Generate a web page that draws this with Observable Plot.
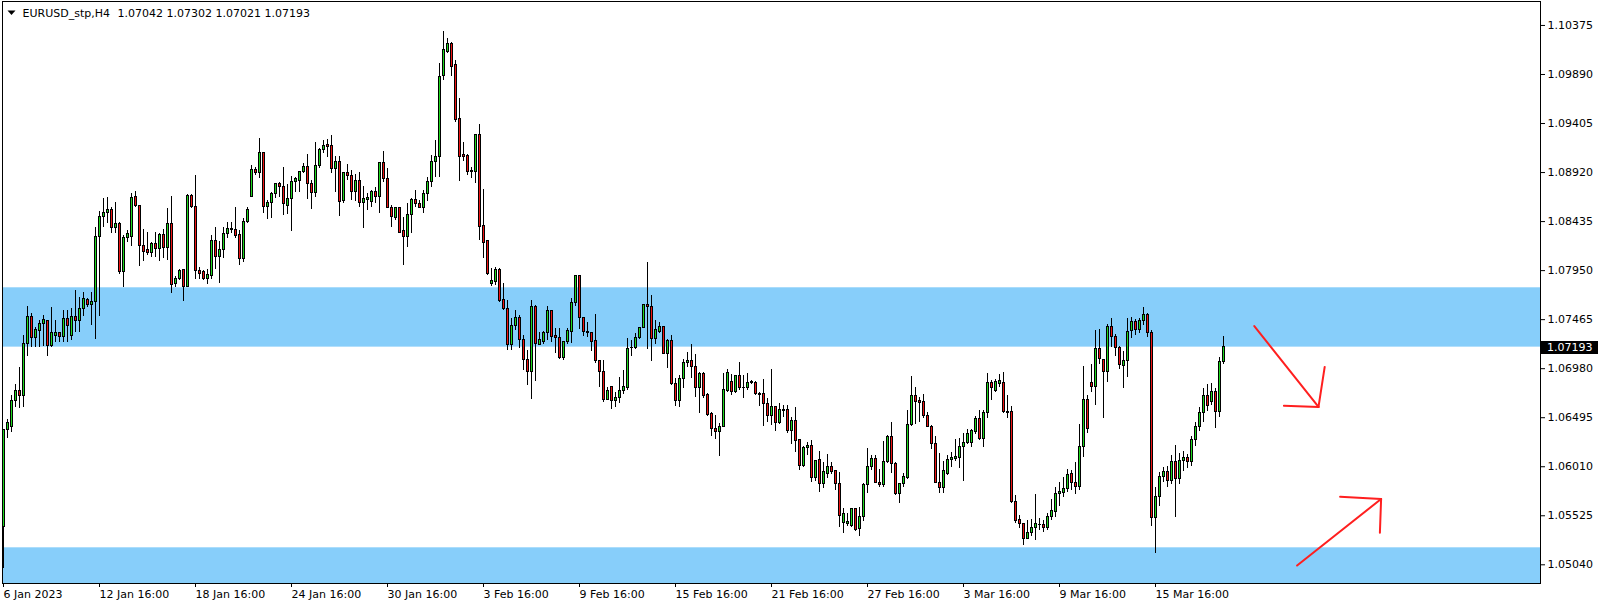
<!DOCTYPE html>
<html><head><meta charset="utf-8">
<script src="https://cdn.jsdelivr.net/npm/d3@7"></script>
<script src="https://cdn.jsdelivr.net/npm/@observablehq/plot@0.6"></script>
<style>
html,body{margin:0;padding:0;background:#fff;}
#chart svg{display:block;}
</style></head><body><div id="chart"></div>
<script>
const symbolLabel = "EURUSD_stp,H4";
const headerValues = "1.07042 1.07302 1.07021 1.07193";

const open = [
1.05409,1.06369,1.06399,1.06656,1.06755,1.06705,1.07229,1.07496,1.07279,1.07348,
1.07417,1.07447,1.07200,1.07308,1.07328,1.07289,1.07467,1.07308,1.07487,1.07447,
1.07566,1.07655,1.07605,1.07635,1.08278,1.08476,1.08515,1.08545,1.08367,1.08416,
1.07932,1.08268,1.08278,1.08674,1.08585,1.08189,1.08149,1.08129,1.08209,1.08159,
1.08298,1.08169,1.08416,1.07813,1.07863,1.07952,1.07783,1.08693,1.08575,1.07942,
1.07932,1.07863,1.07892,1.08238,1.08080,1.08149,1.08308,1.08347,1.08347,1.08298,
1.08060,1.08426,1.08674,1.08941,1.08911,1.09109,1.08575,1.08614,1.08703,1.08802,
1.08773,1.08594,1.08654,1.08822,1.08832,1.08921,1.08971,1.08802,1.08713,1.08980,
1.09139,1.09188,1.09178,1.08951,1.09020,1.08634,1.08911,1.08881,1.08723,1.08832,
1.08614,1.08644,1.08624,1.08723,1.08674,1.09010,1.08852,1.08565,1.08466,1.08565,
1.08337,1.08278,1.08505,1.08644,1.08604,1.08565,1.08703,1.08822,1.09020,1.09069,
1.09871,1.10108,1.10187,1.09979,1.09445,1.09089,1.09079,1.08931,1.08921,1.09287,
1.08387,1.08238,1.07813,1.07833,1.07961,1.07655,1.07566,1.07210,1.07407,1.07477,
1.07259,1.07061,1.06943,1.07586,1.07219,1.07239,1.07328,1.07546,1.07308,1.07279,
1.07081,1.07239,1.07338,1.07625,1.07892,1.07477,1.07338,1.07328,1.07249,1.07051,
1.06952,1.06675,1.06794,1.06656,1.06685,1.06764,1.06784,1.07180,1.07180,1.07279,
1.07378,1.07605,1.07595,1.07269,1.07338,1.07388,1.07130,1.07249,1.06824,1.06656,
1.06873,1.07041,1.07051,1.06992,1.06784,1.06923,1.06715,1.06527,1.06379,1.06349,
1.06399,1.06764,1.06853,1.06745,1.06903,1.06784,1.06784,1.06843,1.06843,1.06725,
1.06725,1.06626,1.06507,1.06596,1.06438,1.06567,1.06567,1.06359,1.06458,1.06270,
1.06013,1.06191,1.06220,1.05894,1.06072,1.05844,1.05943,1.06003,1.05963,1.05844,
1.05449,1.05439,1.05419,1.05587,1.05390,1.05508,1.05825,1.06003,1.06082,1.05854,
1.05825,1.06052,1.06309,1.06042,1.05745,1.05835,1.05894,1.06418,1.06705,1.06656,
1.06646,1.06507,1.06408,1.06230,1.05854,1.05795,1.05943,1.06072,1.06082,1.06092,
1.06210,1.06240,1.06240,1.06349,1.06478,1.06280,1.06537,1.06843,1.06755,1.06833,
1.06843,1.06547,1.06547,1.05666,1.05479,1.05439,1.05300,1.05350,1.05400,1.05429,
1.05429,1.05400,1.05508,1.05567,1.05736,1.05755,1.05785,1.05943,1.05854,1.05805,
1.06210,1.06675,1.06843,1.06794,1.07170,1.07061,1.06943,1.07388,1.07289,1.07180,
1.07011,1.07051,1.07348,1.07437,1.07358,1.07447,1.07506,1.07328,1.05498,1.05706,
1.05904,1.05953,1.05864,1.06052,1.05884,1.06062,1.06101,1.06052,1.06270,1.06408,
1.06537,1.06705,1.06646,1.06745,1.06547,1.07042];

const high = [
1.06379,1.06478,1.06715,1.06824,1.06992,1.07308,1.07595,1.07526,1.07388,1.07457,
1.07506,1.07457,1.07586,1.07457,1.07338,1.07556,1.07556,1.07576,1.07754,1.07684,
1.07734,1.07674,1.07734,1.08377,1.08535,1.08664,1.08674,1.08575,1.08624,1.08426,
1.08298,1.08347,1.08713,1.08733,1.08594,1.08357,1.08327,1.08228,1.08327,1.08317,
1.08357,1.08565,1.08684,1.07892,1.07961,1.07961,1.08703,1.08703,1.08891,1.07981,
1.07952,1.07961,1.08298,1.08377,1.08238,1.08377,1.08426,1.08426,1.08575,1.08347,
1.08466,1.08575,1.08990,1.08971,1.09257,1.09119,1.08644,1.08723,1.08812,1.08822,
1.08971,1.08802,1.08881,1.08872,1.08931,1.09010,1.09099,1.08842,1.09218,1.09158,
1.09237,1.09247,1.09287,1.09079,1.09079,1.08921,1.09000,1.08941,1.08901,1.08921,
1.08782,1.08713,1.08743,1.08773,1.09020,1.09129,1.08961,1.08594,1.08575,1.08575,
1.08476,1.08614,1.08664,1.08743,1.08644,1.08743,1.08871,1.09089,1.09237,1.09999,
1.10316,1.10247,1.10207,1.10029,1.09653,1.09218,1.09099,1.08971,1.09297,1.09396,
1.08753,1.08248,1.07971,1.07981,1.07971,1.07823,1.07655,1.07477,1.07556,1.07506,
1.07308,1.07160,1.07655,1.07605,1.07338,1.07348,1.07595,1.07556,1.07378,1.07378,
1.07249,1.07378,1.07675,1.07902,1.07902,1.07487,1.07437,1.07338,1.07516,1.07061,
1.07061,1.06794,1.06804,1.06745,1.06893,1.06962,1.07279,1.07259,1.07328,1.07388,
1.07615,1.08031,1.07704,1.07457,1.07437,1.07398,1.07269,1.07308,1.06883,1.06913,
1.07071,1.07140,1.07219,1.07120,1.06943,1.06943,1.06735,1.06547,1.06517,1.06438,
1.06933,1.06972,1.06923,1.06913,1.07041,1.06913,1.06933,1.06863,1.06853,1.06745,
1.06873,1.06685,1.06972,1.06606,1.06636,1.06616,1.06616,1.06497,1.06596,1.06280,
1.06210,1.06250,1.06270,1.06072,1.06161,1.06052,1.06131,1.06052,1.05973,1.05953,
1.05597,1.05548,1.05597,1.05597,1.05607,1.05844,1.06191,1.06121,1.06121,1.05983,
1.06260,1.06319,1.06448,1.06052,1.05844,1.05943,1.06567,1.06903,1.06794,1.06695,
1.06725,1.06547,1.06418,1.06309,1.06141,1.06062,1.06121,1.06151,1.06280,1.06290,
1.06339,1.06379,1.06379,1.06507,1.06567,1.06567,1.06933,1.06863,1.06873,1.06923,
1.06943,1.06715,1.06606,1.05726,1.05528,1.05449,1.05479,1.05489,1.05736,1.05498,
1.05479,1.05548,1.05686,1.05805,1.05854,1.05904,1.05983,1.05973,1.06052,1.06428,
1.07002,1.06715,1.07021,1.07358,1.07368,1.07071,1.07417,1.07477,1.07318,1.07200,
1.07150,1.07477,1.07487,1.07467,1.07477,1.07586,1.07526,1.07358,1.05805,1.05953,
1.06003,1.06013,1.06121,1.06220,1.06141,1.06161,1.06131,1.06309,1.06448,1.06596,
1.06784,1.06824,1.06834,1.06784,1.07091,1.07302];

const low = [
1.05004,1.06290,1.06349,1.06596,1.06586,1.06596,1.07101,1.07190,1.07190,1.07190,
1.07200,1.07101,1.07190,1.07239,1.07239,1.07239,1.07239,1.07259,1.07338,1.07338,
1.07496,1.07586,1.07407,1.07269,1.07496,1.08377,1.08416,1.08317,1.08317,1.07912,
1.07783,1.08228,1.08189,1.08575,1.07991,1.08041,1.08100,1.08080,1.08080,1.08041,
1.08070,1.08050,1.07724,1.07783,1.07853,1.07645,1.07783,1.08565,1.07863,1.07863,
1.07853,1.07813,1.07863,1.07961,1.07823,1.08070,1.08268,1.08317,1.08268,1.08001,
1.08031,1.08416,1.08674,1.08891,1.08862,1.08515,1.08456,1.08466,1.08664,1.08674,
1.08496,1.08505,1.08337,1.08723,1.08723,1.08911,1.08654,1.08555,1.08674,1.08961,
1.09109,1.09069,1.08911,1.08723,1.08486,1.08614,1.08842,1.08644,1.08634,1.08575,
1.08367,1.08545,1.08575,1.08614,1.08515,1.08822,1.08560,1.08377,1.08446,1.08317,
1.08001,1.08179,1.08317,1.08575,1.08560,1.08515,1.08634,1.08773,1.08871,1.08871,
1.09831,1.10098,1.09871,1.09415,1.08832,1.09030,1.08891,1.08862,1.08812,1.08248,
1.08070,1.07902,1.07793,1.07803,1.07635,1.07556,1.07160,1.07160,1.07358,1.07180,
1.06962,1.06814,1.06675,1.06853,1.07210,1.07219,1.07259,1.07239,1.07130,1.07071,
1.07061,1.07219,1.07229,1.07595,1.07368,1.07298,1.07289,1.07150,1.07031,1.06794,
1.06646,1.06665,1.06577,1.06596,1.06636,1.06725,1.06764,1.07101,1.07170,1.07269,
1.07378,1.07170,1.07051,1.07219,1.07328,1.07120,1.06982,1.06814,1.06606,1.06596,
1.06784,1.06992,1.06883,1.06695,1.06537,1.06685,1.06507,1.06309,1.06279,1.06112,
1.06399,1.06745,1.06715,1.06735,1.06764,1.06685,1.06764,1.06824,1.06715,1.06606,
1.06408,1.06448,1.06418,1.06359,1.06428,1.06497,1.06339,1.06230,1.06151,1.05973,
1.06003,1.06121,1.05854,1.05864,1.05755,1.05795,1.05894,1.05933,1.05775,1.05409,
1.05350,1.05419,1.05409,1.05370,1.05320,1.05469,1.05745,1.05973,1.05844,1.05805,
1.05805,1.06042,1.05943,1.05726,1.05647,1.05805,1.05884,1.06408,1.06428,1.06448,
1.06487,1.06398,1.06181,1.05844,1.05745,1.05745,1.05923,1.06003,1.06062,1.05993,
1.05864,1.06230,1.06201,1.06329,1.06270,1.06201,1.06487,1.06665,1.06745,1.06794,
1.06537,1.06487,1.05647,1.05449,1.05400,1.05231,1.05290,1.05320,1.05281,1.05380,
1.05360,1.05380,1.05479,1.05508,1.05617,1.05706,1.05755,1.05775,1.05736,1.05775,
1.06102,1.06339,1.06745,1.06616,1.07021,1.06487,1.06843,1.07190,1.07101,1.06972,
1.06784,1.06893,1.07279,1.07308,1.07328,1.07407,1.07289,1.05420,1.05156,1.05617,
1.05854,1.05805,1.05835,1.05508,1.05835,1.05963,1.05993,1.06013,1.06210,1.06359,
1.06448,1.06557,1.06616,1.06389,1.06498,1.07021];

const close = [
1.06369,1.06438,1.06656,1.06755,1.06705,1.07229,1.07496,1.07279,1.07358,1.07417,
1.07457,1.07200,1.07328,1.07328,1.07289,1.07467,1.07398,1.07487,1.07447,1.07566,
1.07665,1.07605,1.07635,1.08278,1.08476,1.08515,1.08545,1.08367,1.08416,1.07932,
1.08268,1.08308,1.08664,1.08585,1.08189,1.08139,1.08120,1.08209,1.08159,1.08298,
1.08169,1.08416,1.07803,1.07863,1.07942,1.07783,1.08693,1.08575,1.07942,1.07912,
1.07863,1.07902,1.08238,1.08080,1.08149,1.08308,1.08357,1.08357,1.08288,1.08060,
1.08426,1.08545,1.08941,1.08911,1.09109,1.08575,1.08614,1.08703,1.08802,1.08773,
1.08604,1.08654,1.08822,1.08852,1.08921,1.08971,1.08802,1.08713,1.08980,1.09139,
1.09178,1.09168,1.08951,1.09020,1.08624,1.08911,1.08881,1.08723,1.08832,1.08614,
1.08654,1.08664,1.08723,1.08674,1.09010,1.08852,1.08565,1.08476,1.08565,1.08327,
1.08278,1.08505,1.08644,1.08604,1.08565,1.08703,1.08822,1.09020,1.09069,1.09861,
1.10128,1.10187,1.09969,1.09435,1.09069,1.09069,1.08921,1.08926,1.09287,1.08377,
1.08228,1.07912,1.07843,1.07961,1.07645,1.07566,1.07210,1.07407,1.07477,1.07259,
1.07061,1.06943,1.07595,1.07229,1.07259,1.07328,1.07546,1.07298,1.07279,1.07081,
1.07239,1.07348,1.07625,1.07892,1.07477,1.07338,1.07328,1.07239,1.07051,1.06943,
1.06675,1.06764,1.06665,1.06685,1.06764,1.06794,1.07170,1.07183,1.07279,1.07378,
1.07605,1.07586,1.07269,1.07358,1.07388,1.07130,1.07249,1.06824,1.06656,1.06873,
1.07041,1.07051,1.06992,1.06784,1.06923,1.06705,1.06517,1.06379,1.06349,1.06399,
1.06774,1.06933,1.06745,1.06903,1.06784,1.06789,1.06843,1.06848,1.06725,1.06720,
1.06626,1.06507,1.06596,1.06438,1.06567,1.06562,1.06359,1.06458,1.06260,1.06013,
1.06191,1.06220,1.05894,1.06062,1.05844,1.05953,1.06003,1.05953,1.05844,1.05518,
1.05538,1.05459,1.05587,1.05380,1.05508,1.05825,1.06003,1.06082,1.05854,1.05825,
1.06052,1.06309,1.06042,1.05736,1.05835,1.05904,1.06418,1.06705,1.06646,1.06636,
1.06507,1.06408,1.06230,1.05854,1.05795,1.05963,1.06072,1.06092,1.06102,1.06210,
1.06240,1.06329,1.06359,1.06478,1.06280,1.06537,1.06843,1.06784,1.06853,1.06858,
1.06547,1.06542,1.05657,1.05469,1.05439,1.05300,1.05350,1.05400,1.05439,1.05434,
1.05400,1.05508,1.05577,1.05736,1.05765,1.05785,1.05933,1.05854,1.05805,1.06210,
1.06675,1.06379,1.06794,1.07170,1.07071,1.06943,1.07388,1.07289,1.07180,1.07021,
1.07051,1.07338,1.07437,1.07358,1.07447,1.07506,1.07328,1.05498,1.05706,1.05904,
1.05953,1.05864,1.06052,1.05884,1.06062,1.06101,1.06052,1.06270,1.06408,1.06537,
1.06705,1.06606,1.06745,1.06547,1.07042,1.07193];

// x axis: bar index of each tick and its label
const xTickIndex = [0, 24, 48, 72, 96, 120, 144, 168, 192, 216, 240, 264, 288];
const xTickLabels = ["6 Jan 2023", "12 Jan 16:00", "18 Jan 16:00", "24 Jan 16:00", "30 Jan 16:00",
  "3 Feb 16:00", "9 Feb 16:00", "15 Feb 16:00", "21 Feb 16:00", "27 Feb 16:00",
  "3 Mar 16:00", "9 Mar 16:00", "15 Mar 16:00"];
// y axis
const yTicks = [1.10375, 1.09890, 1.09405, 1.08920, 1.08435, 1.07950, 1.07465,
  1.06980, 1.06495, 1.06010, 1.05525, 1.05040];
const yDomain = [1.04855, 1.10612];
const xDomain = [-0.25, 384.25];
const lastPrice = 1.07193;

// shaded zones (price ranges)
const zoneLow = [1.07193, 1.04855];
const zoneHigh = [1.07780, 1.05208];

// hand-drawn arrows (bar index, price)
const arrowX1 = [312.7, 328.75, 328.75, 323.4, 344.4, 344.4];
const arrowY1 = [1.07402, 1.06602, 1.06602, 1.05033, 1.05691, 1.05691];
const arrowX2 = [328.75, 320.1, 330.3, 344.4, 334.15, 344.1];
const arrowY2 = [1.06602, 1.06613, 1.06997, 1.05691, 1.05712, 1.05357];

const GREEN = "#1ed81e", RED = "#ee1414", ZONE = "#87cefa", ARROW = "#ff1f1f";
const FONT = "DejaVu Sans";

const n = Math.min(open.length, high.length, low.length, close.length);
const bars = d3.range(n).map(i => ({i, o: open[i], h: high[i], l: low[i], c: close[i],
  lo: Math.min(open[i], close[i]), hi: Math.max(open[i], close[i]), up: close[i] >= open[i]}));
const zones = zoneLow.map((lo, k) => ({lo, hi: zoneHigh[k]}));
const arrows = arrowX1.map((x1, k) => ({x1, y1: arrowY1[k], x2: arrowX2[k], y2: arrowY2[k]}));

const W = 1604, H = 607, mL = 2, mR = 64, mT = 1, mB = 24;

const triSymbol = {draw(ctx) { ctx.moveTo(-4, -2); ctx.lineTo(4, -2); ctx.lineTo(0, 2.5); ctx.closePath(); }};

const chart = Plot.plot({
  width: W, height: H,
  marginLeft: mL, marginRight: mR, marginTop: mT, marginBottom: mB,
  style: {fontFamily: FONT, fontSize: "11px", color: "#000", background: "#fff"},
  x: {domain: xDomain},
  y: {domain: yDomain},
  marks: [
    Plot.rect(zones, {y1: "lo", y2: "hi", fill: ZONE}),
    Plot.rect(bars, {x1: d => d.i - 0.125, x2: d => d.i + 0.125, y1: "l", y2: "h",
      fill: "#000", ariaLabel: "wick", shapeRendering: "crispEdges"}),
    Plot.rect(bars, {x1: d => d.i - 0.375, x2: d => d.i + 0.375, y1: "lo", y2: "hi",
      fill: "#000", insetTop: -0.5, insetBottom: -0.5, ariaLabel: "body", shapeRendering: "crispEdges"}),
    Plot.rect(bars, {x1: d => d.i - 0.125, x2: d => d.i + 0.125, y1: "lo", y2: "hi",
      fill: d => d.up ? GREEN : RED, insetTop: 0.5, insetBottom: 0.5, ariaLabel: "bodyfill", shapeRendering: "crispEdges"}),
    Plot.link(arrows, {x1: "x1", y1: "y1", x2: "x2", y2: "y2", stroke: ARROW, strokeWidth: 2, strokeLinecap: "round"}),
    Plot.frame({stroke: "#000"}),
    Plot.axisY(yTicks, {anchor: "right", tickSize: 4, tickPadding: 3, label: null,
      tickFormat: d => d.toFixed(5), fontSize: 11, fill: "#000", stroke: "#000"}),
    Plot.axisX(xTickIndex, {anchor: "bottom", tickSize: 4, tickPadding: 3, label: null,
      tickFormat: d => xTickLabels[xTickIndex.indexOf(d)], textAnchor: "start", fontSize: 11, fill: "#000", stroke: "#000"}),
    Plot.dot([0], {frameAnchor: "top-left", dx: 9, dy: 11, symbol: triSymbol, fill: "#000", stroke: null}),
    Plot.text([symbolLabel], {frameAnchor: "top-left", text: d => d, dx: 20, dy: 12, textAnchor: "start", lineAnchor: "middle", fontSize: 11, fill: "#000"}),
    Plot.text([headerValues], {frameAnchor: "top-left", text: d => d, dx: 115, dy: 12, textAnchor: "start", lineAnchor: "middle", fontSize: 11, fill: "#000"})
  ]
});

const svg = d3.select(chart);
svg.selectAll('g[aria-label="wick"], g[aria-label="body"], g[aria-label="bodyfill"]').attr("transform", "translate(0.5,0)");

// current price marker on the price axis
const yPix = chart.scale("y").apply(lastPrice);
const xRight = W - mR + 1;
const tag = svg.append("g").attr("text-anchor", "start");
tag.append("rect").attr("x", xRight).attr("y", Math.round(yPix) - 6).attr("width", 57).attr("height", 13).attr("fill", "#000");
tag.append("text").attr("x", xRight + 6).attr("y", Math.round(yPix) + 0.5).attr("dy", "0.35em")
  .attr("text-anchor", "start").attr("fill", "#fff").attr("font-family", FONT).attr("font-size", 11)
  .text(lastPrice.toFixed(5));

document.getElementById("chart").appendChild(chart);
</script>
</body></html>
